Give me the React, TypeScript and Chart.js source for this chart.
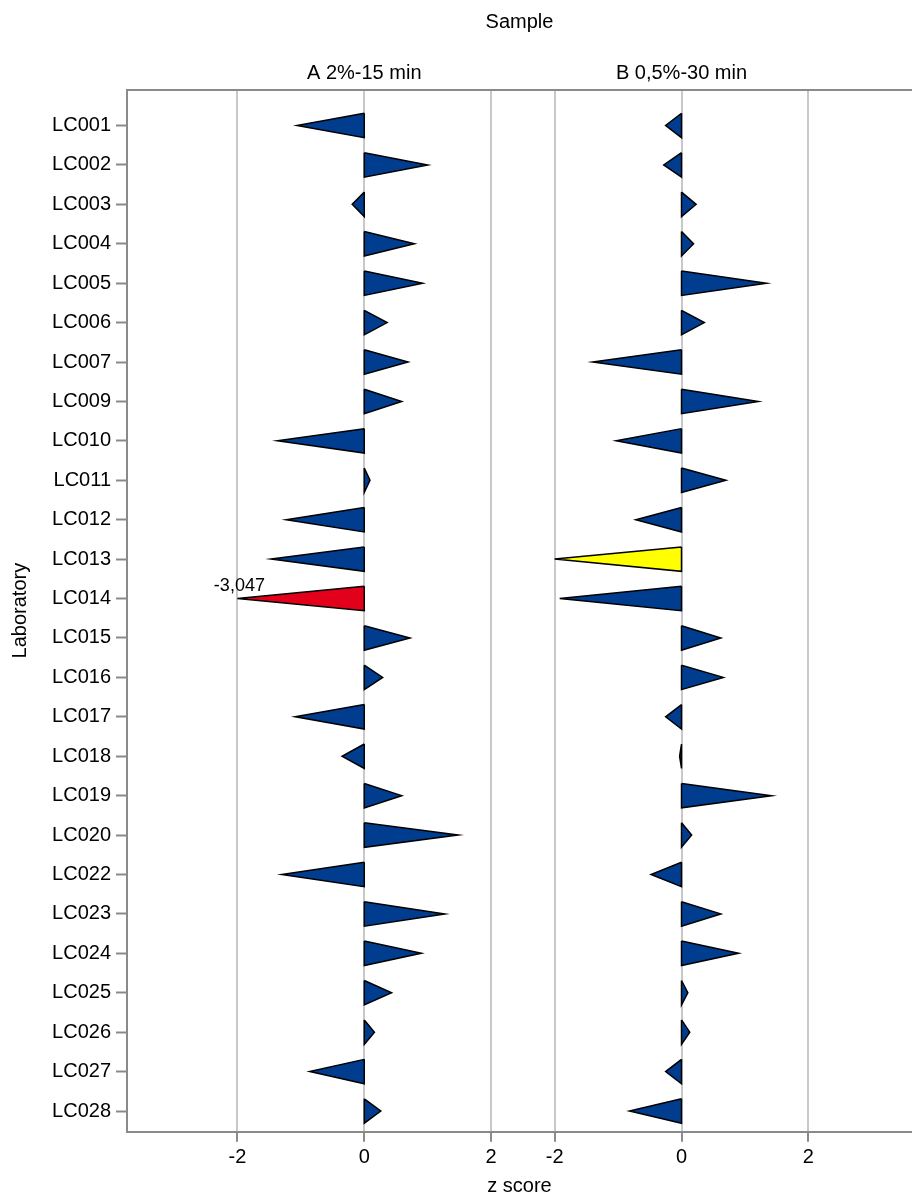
import React, { useEffect, useRef } from 'react';
import { Chart, registerables } from 'chart.js';

Chart.register(...registerables);

// ---- data ----
const labs = [
  'LC001', 'LC002', 'LC003', 'LC004', 'LC005', 'LC006', 'LC007', 'LC009', 'LC010',
  'LC011', 'LC012', 'LC013', 'LC014', 'LC015', 'LC016', 'LC017', 'LC018', 'LC019',
  'LC020', 'LC022', 'LC023', 'LC024', 'LC025', 'LC026', 'LC027', 'LC028',
];
const zSampleA = [
  -1.06, 1.0, -0.19, 0.79, 0.92, 0.36, 0.69, 0.59, -1.37,
  0.09, -1.23, -1.47, -3.047, 0.72, 0.29, -1.09, -0.35, 0.59,
  1.48, -1.3, 1.27, 0.9, 0.43, 0.16, -0.86, 0.26,
];
const zSampleB = [
  -0.25, -0.28, 0.23, 0.19, 1.34, 0.36, -1.4, 1.21, -1.03,
  0.7, -0.72, -2.0, -1.92, 0.62, 0.66, -0.25, -0.03, 1.42,
  0.16, -0.48, 0.62, 0.9, 0.1, 0.13, -0.25, -0.82,
];
const sampleTitles = ['A 2%-15 min', 'B 0,5%-30 min'];
const xTickValues = [-2, 0, 2];
const rangeA = [-3.74, 2.5];
const rangeB = [-2.5, 3.633];

// ---- styles ----
const CAP = 2;
const HALF = 0.31;
const BLUE = '#003d8f';
const YELLOW = '#ffff00';
const RED = '#e2001a';
const FONT = "'Liberation Sans', Arial, sans-serif";
const AXIS_GRAY = '#8a8a8a';
const GRID_GRAY = '#c8c8c8';

function colorFor(z: number) {
  const a = Math.abs(z);
  if (a >= 3) return RED;
  if (a >= 2) return YELLOW;
  return BLUE;
}

function triangles(values: number[], axisId: string) {
  return values.map((z, i) => {
    const v = Math.max(-CAP, Math.min(CAP, z));
    return {
      label: labs[i],
      zValue: z,
      xAxisID: axisId,
      yAxisID: 'y',
      data: [
        { x: 0, y: i - HALF },
        { x: v, y: i },
        { x: 0, y: i + HALF },
        { x: 0, y: i - HALF },
      ],
      showLine: true,
      fill: 'shape',
      backgroundColor: colorFor(z),
      borderColor: '#000000',
      borderWidth: 1.5,
      borderJoinStyle: 'miter',
      tension: 0,
      pointRadius: 0,
      pointHoverRadius: 0,
    };
  });
}

const flagPlugin = {
  id: 'flagLabels',
  afterDatasetsDraw(chart: any) {
    const ctx = chart.ctx;
    chart.data.datasets.forEach((ds: any, i: number) => {
      const z = ds.zValue;
      if (typeof z !== 'number' || Math.abs(z) <= CAP) return;
      const apex = chart.getDatasetMeta(i).data[1];
      if (!apex) return;
      ctx.save();
      ctx.font = `18px ${FONT}`;
      ctx.fillStyle = '#000';
      ctx.textAlign = 'center';
      ctx.textBaseline = 'bottom';
      ctx.fillText(z.toFixed(3).replace('.', ','), apex.x + 2, apex.y - 4);
      ctx.restore();
    });
  },
};

function bottomAxis(range: number[]) {
  return {
    type: 'linear',
    axis: 'x',
    position: 'bottom',
    stack: 'bottomStack',
    stackWeight: range[1] - range[0],
    min: range[0],
    max: range[1],
    afterBuildTicks: (s: any) => {
      s.ticks = xTickValues.map((v) => ({ value: v }));
    },
    afterFit: (s: any) => {
      s.height = 44.3;
    },
    grid: {
      display: true,
      drawOnChartArea: true,
      drawTicks: true,
      tickLength: 10,
      color: GRID_GRAY,
      lineWidth: 2,
      tickColor: AXIS_GRAY,
      tickWidth: 2,
    },
    border: { display: true, color: AXIS_GRAY, width: 2 },
    ticks: {
      padding: 4,
      color: '#000',
      font: { size: 20, family: FONT },
      maxRotation: 0,
      autoSkip: false,
    },
  };
}

function topAxis(range: number[], title: string) {
  return {
    type: 'linear',
    axis: 'x',
    position: 'top',
    stack: 'topStack',
    stackWeight: range[1] - range[0],
    min: range[0],
    max: range[1],
    afterBuildTicks: (s: any) => {
      s.ticks = [{ value: 0 }];
    },
    afterFit: (s: any) => {
      s.height = 55.5;
    },
    grid: { display: false, drawTicks: false, drawOnChartArea: false },
    border: { display: true, color: AXIS_GRAY, width: 2 },
    ticks: {
      padding: 4,
      color: '#000',
      font: { size: 20, family: FONT },
      maxRotation: 0,
      autoSkip: false,
      callback: () => title,
    },
  };
}

export default function App() {
  const ref = useRef<HTMLCanvasElement | null>(null);

  useEffect(() => {
    document.body.style.margin = '0';
    if (!ref.current) return;
    Chart.defaults.font.family = FONT;
    const chart = new Chart(ref.current, {
      type: 'scatter',
      data: {
        datasets: [...triangles(zSampleA, 'xA'), ...triangles(zSampleB, 'xB')] as any,
      },
      options: {
        animation: false,
        responsive: false,
        devicePixelRatio: 1,
        events: [],
        layout: { padding: 0 },
        plugins: {
          legend: { display: false },
          tooltip: { enabled: false },
          title: {
            display: true,
            text: 'Sample',
            position: 'top',
            fullSize: false,
            color: '#000',
            font: { size: 20, weight: 'normal', family: FONT, lineHeight: 1.2 },
            padding: { top: 10, bottom: 0 },
          },
          subtitle: {
            display: true,
            text: 'z score',
            position: 'bottom',
            fullSize: false,
            color: '#000',
            font: { size: 20, weight: 'normal', family: FONT, lineHeight: 1.0 },
            padding: { top: 0, bottom: 0 },
          },
        },
        scales: {
          xA: bottomAxis(rangeA),
          xB: bottomAxis(rangeB),
          // top boxes are laid out in reverse order, so B is declared first
          xTopB: topAxis(rangeB, sampleTitles[1]),
          xTopA: topAxis(rangeA, sampleTitles[0]),
          y: {
            type: 'linear',
            axis: 'y',
            position: 'left',
            reverse: true,
            min: -0.913,
            max: 25.525,
            afterBuildTicks: (s: any) => {
              s.ticks = labs.map((_, i) => ({ value: i }));
            },
            afterFit: (s: any) => {
              s.width = 127;
            },
            grid: {
              display: true,
              drawOnChartArea: false,
              drawTicks: true,
              tickLength: 11,
              tickColor: AXIS_GRAY,
              tickWidth: 2,
            },
            border: { display: true, color: AXIS_GRAY, width: 2 },
            ticks: {
              padding: 5,
              color: '#000',
              font: { size: 20, family: FONT },
              autoSkip: false,
              callback: (value: any) => labs[Math.round(Number(value))] ?? '',
            },
            title: {
              display: true,
              text: 'Laboratory',
              color: '#000',
              font: { size: 20, family: FONT },
              padding: { top: 8, bottom: 0 },
            },
          },
        } as any,
      },
      plugins: [flagPlugin],
    } as any);
    return () => chart.destroy();
  }, []);

  return (
    <canvas
      ref={ref}
      width={912}
      height={1196}
      style={{ display: 'block', width: '912px', height: '1196px' }}
    />
  );
}
